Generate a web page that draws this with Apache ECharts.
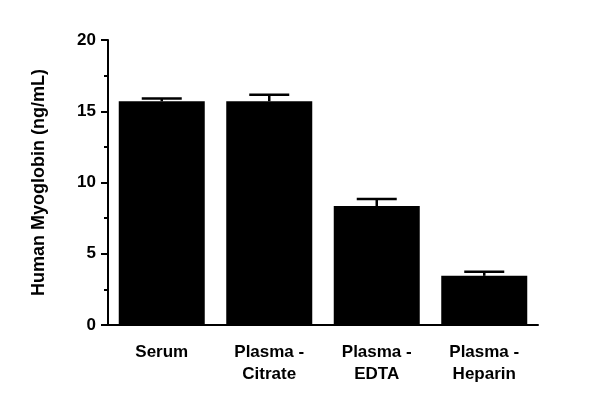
<!DOCTYPE html>
<html><head><meta charset="utf-8">
<script src="https://cdn.jsdelivr.net/npm/echarts@6/dist/echarts.min.js"></script>
<style>html,body{margin:0;padding:0;background:#fff}#c{width:600px;height:419px}</style>
</head><body><div id="c"></div>
<script>
const categories = ['Serum', 'Plasma -\nCitrate', 'Plasma -\nEDTA', 'Plasma -\nHeparin'];
const means = [15.7, 15.7, 8.35, 3.45];
const errors = [0.2, 0.45, 0.5, 0.28];
const yTicks = [0, 5, 10, 15, 20];

const chart = echarts.init(document.getElementById('c'));
const font = 'Liberation Sans';
chart.setOption({
  animation: false,
  grid: { left: 108, right: 62, top: 40, bottom: 94 },
  xAxis: {
    type: 'category', data: categories,
    axisLine: { lineStyle: { color: '#000', width: 2 } },
    axisTick: { show: false },
    axisLabel: { color: '#000', fontFamily: font, fontWeight: 'bold', fontSize: 17, lineHeight: 22, margin: 16, interval: 0 }
  },
  yAxis: {
    type: 'value', min: yTicks[0], max: yTicks[yTicks.length - 1], interval: 5,
    name: 'Human Myoglobin (ng/mL)', nameLocation: 'middle', nameGap: 60,
    nameTextStyle: { color: '#000', fontFamily: font, fontWeight: 'bold', fontSize: 18 },
    axisLine: { show: true, lineStyle: { color: '#000', width: 2 } },
    axisTick: { show: true, length: 7, lineStyle: { width: 2 } },
    minorTick: { show: true, splitNumber: 2, length: 4, lineStyle: { color: '#000', width: 2 } },
    splitLine: { show: false },
    axisLabel: { color: '#000', fontFamily: font, fontWeight: 'bold', fontSize: 17, margin: 12 }
  },
  series: [
    { type: 'bar', data: means, barWidth: '80%', itemStyle: { color: '#000' } },
    {
      type: 'custom', z: 5,
      data: means.map((m, i) => [i, m, m + errors[i]]),
      renderItem: function (params, api) {
        const lo = api.coord([api.value(0), api.value(1)]);
        const hi = api.coord([api.value(0), api.value(2)]);
        const half = 20;
        const st = { stroke: '#000', lineWidth: 2.5 };
        return { type: 'group', children: [
          { type: 'line', shape: { x1: lo[0], y1: lo[1], x2: hi[0], y2: hi[1] }, style: st },
          { type: 'line', shape: { x1: hi[0] - half, y1: hi[1], x2: hi[0] + half, y2: hi[1] }, style: st }
        ]};
      }
    }
  ]
});
</script></body></html>
